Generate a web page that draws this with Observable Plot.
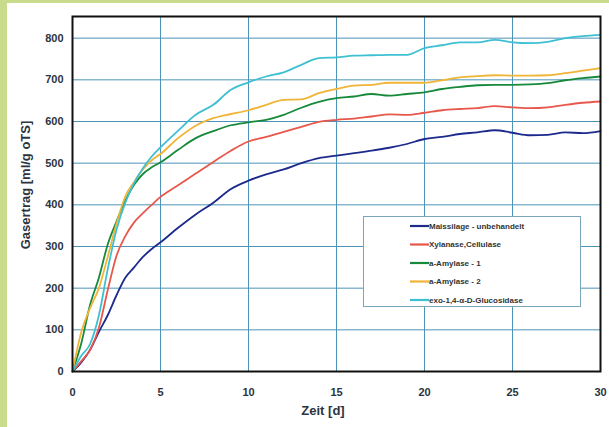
<!DOCTYPE html>
<html>
<head>
<meta charset="utf-8">
<script src="https://cdn.jsdelivr.net/npm/d3@7"></script>
<script src="https://cdn.jsdelivr.net/npm/@observablehq/plot@0.6"></script>
<style>
  html, body { margin: 0; padding: 0; }
  body { width: 609px; height: 427px; background: #c9dc8c; position: relative; overflow: hidden;
         font-family: "Liberation Sans", Arial, sans-serif; }
  #wrap { position: absolute; left: 7px; top: 3px; width: 602px; height: 424px; background: #fff; }
  #wrap svg { position: absolute; left: 0; top: 0; }
  .lbl { position: absolute; font-weight: bold; font-size: 13px; color: #2b3440; white-space: nowrap; }
  #legend { position: absolute; left: 356px; top: 213px; width: 216px; height: 89px;
            border: 1px solid #7aa6bc; background: #fff; }
</style>
</head>
<body>
<div id="wrap"></div>
<script>
// ---- data ----
const days = [0, 0.5, 1, 1.5, 2, 2.5, 3, 3.5, 4, 4.5, 5, 6, 7, 8, 9, 10, 11, 12, 13, 14, 15,
              16, 17, 18, 19, 20, 21, 22, 23, 24, 25, 26, 27, 28, 29, 30];
const maissilage = [0, 22, 52, 95, 135, 183, 225, 250, 275, 294, 310, 345, 377, 405, 438, 458, 473, 485, 500, 512, 518,
                    524, 530, 537, 546, 558, 563, 570, 574, 579, 573, 567, 568, 574, 572, 577];
const xylanase = [0, 25, 52, 105, 195, 278, 325, 358, 380, 400, 419, 447, 475, 503, 530, 552, 563, 575, 587, 599, 604,
                  607, 612, 617, 616, 621, 627, 630, 632, 637, 634, 632, 634, 640, 645, 648];
const amylase1 = [0, 68, 160, 225, 305, 360, 410, 448, 474, 490, 502, 532, 560, 577, 591, 598, 604, 616, 633, 647, 656,
                  660, 666, 662, 666, 670, 678, 683, 687, 688, 688, 689, 692, 699, 704, 708];
const amylase2 = [0, 95, 152, 200, 275, 355, 420, 455, 485, 507, 522, 560, 590, 608, 618, 627, 640, 652, 653, 668, 678,
                  686, 688, 693, 693, 693, 699, 706, 709, 711, 710, 710, 711, 716, 722, 728];
const glucosidase = [0, 38, 66, 135, 245, 340, 405, 452, 488, 516, 538, 578, 616, 640, 676, 694, 708, 718, 736, 752, 754,
                     758, 759, 760, 760, 776, 783, 790, 790, 796, 790, 788, 791, 800, 805, 808];

const seriesNames = ["Maissilage - unbehandelt", "Xylanase,Cellulase", "a-Amylase - 1", "a-Amylase - 2", "exo-1,4-α-D-Glucosidase"];
const seriesValues = [maissilage, xylanase, amylase1, amylase2, glucosidase];
const seriesColors = ["#1c2a8c", "#e8574c", "#17893a", "#f0b436", "#3fc0d2"];

const xTicks = [0, 5, 10, 15, 20, 25, 30];
const yTicks = [0, 100, 200, 300, 400, 500, 600, 700, 800];
const xLabel = "Zeit [d]";
const yLabel = "Gasertrag [ml/g oTS]";

// long-form table
const rows = [];
seriesNames.forEach((s, i) => days.forEach((d, j) => rows.push({series: s, day: d, value: seriesValues[i][j]})));

const W = 602, H = 424;
const chart = Plot.plot({
  width: W, height: H,
  marginLeft: 65, marginRight: 9, marginTop: 13, marginBottom: 56,
  style: {fontFamily: "'Liberation Sans', Arial, sans-serif", fontWeight: "bold", fontSize: "11px", color: "#2b3440", background: "transparent"},
  x: {domain: [0, 30]},
  y: {domain: [0, 852]},
  color: {domain: seriesNames, range: seriesColors},
  marks: [
    Plot.gridX(xTicks, {stroke: "#4d93b8", strokeOpacity: 1, strokeWidth: 1}),
    Plot.gridY(yTicks, {stroke: "#4d93b8", strokeOpacity: 1, strokeWidth: 1}),
    Plot.axisX(xTicks, {tickSize: 0, tickPadding: 17, label: null, fontSize: 11, fontWeight: "bold"}),
    Plot.axisY(yTicks, {tickSize: 0, tickPadding: 9, label: null, fontSize: 11, fontWeight: "bold"}),
    Plot.line(rows, {x: "day", y: "value", z: "series", stroke: "series", strokeWidth: 1.8, curve: "monotone-x"}),
    Plot.frame({stroke: "#111", strokeWidth: 2})
  ]
});
const wrap = document.getElementById("wrap");
wrap.appendChild(chart);

// axis titles
const xl = document.createElement("div");
xl.className = "lbl"; xl.textContent = xLabel;
xl.style.left = "316px"; xl.style.top = "407px"; xl.style.transform = "translate(-50%,-50%)";
wrap.appendChild(xl);
const yl = document.createElement("div");
yl.className = "lbl"; yl.textContent = yLabel;
yl.style.left = "18px"; yl.style.top = "182px"; yl.style.transform = "translate(-50%,-50%) rotate(-90deg)";
wrap.appendChild(yl);

// legend
const leg = document.createElement("div");
leg.id = "legend";
wrap.appendChild(leg);
const lsvg = d3.select(leg).append("svg").attr("width", 216).attr("height", 89);
seriesNames.forEach((s, i) => {
  const y = 9 + i * 18.5;
  lsvg.append("line").attr("x1", 46).attr("x2", 65).attr("y1", y).attr("y2", y)
    .attr("stroke", seriesColors[i]).attr("stroke-width", 2.2);
  lsvg.append("text").attr("x", 65).attr("y", y).attr("dy", "0.35em")
    .attr("font-family", "'Liberation Sans', Arial, sans-serif").attr("font-size", 8)
    .attr("font-weight", "bold").attr("fill", "#333").text(s);
});
</script>
</body>
</html>
